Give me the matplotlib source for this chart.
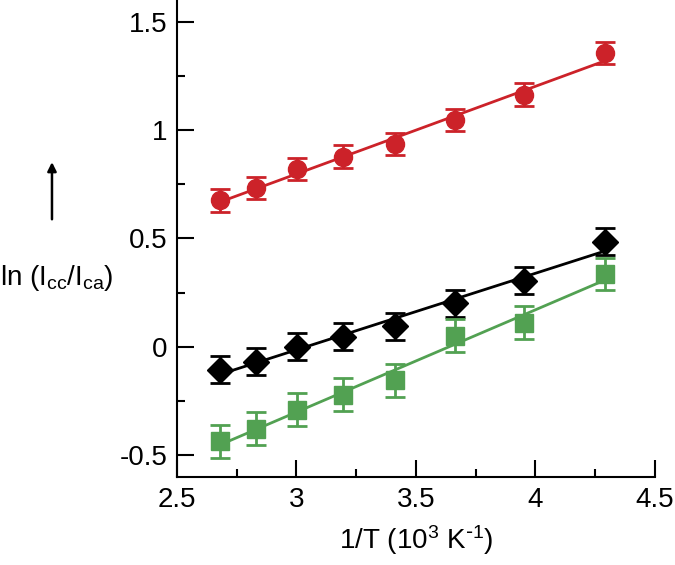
import numpy as np
import matplotlib.pyplot as plt
from matplotlib.patches import FancyArrowPatch
from matplotlib.ticker import MultipleLocator

plt.rcParams['font.family'] = ['Liberation Sans', 'DejaVu Sans']
plt.rcParams['mathtext.default'] = 'regular'

# 1000/T for T = 373 ... 233 K
inv_t = [2.681, 2.833, 3.003, 3.195, 3.413, 3.663, 3.953, 4.292]

red_y = [0.675, 0.733, 0.82, 0.877, 0.935, 1.046, 1.163, 1.355]
red_err = [0.052, 0.052, 0.052, 0.052, 0.052, 0.052, 0.052, 0.052]

black_y = [-0.105, -0.068, 0.0, 0.047, 0.094, 0.2, 0.304, 0.485]
black_err = [0.062, 0.062, 0.062, 0.062, 0.062, 0.062, 0.062, 0.062]

green_y = [-0.436, -0.378, -0.29, -0.221, -0.155, 0.051, 0.112, 0.336]
green_err = [0.075, 0.075, 0.075, 0.075, 0.075, 0.075, 0.075, 0.075]

series = [
    (red_y, red_err, "#CC2229", "o", 13),
    (black_y, black_err, "#000000", "D", 13),
    (green_y, green_err, "#52A152", "s", 13),
]

fig = plt.figure(figsize=(6.75, 5.65), dpi=100)
ax = fig.add_axes([0.262, 0.156, 0.708, 0.844])

x = np.array(inv_t)
for y, err, color, marker, ms in series:
    coef = np.polyfit(x, y, 1)
    ax.plot(x, np.polyval(coef, x), color=color, lw=2)
    ax.errorbar(x, y, yerr=err, fmt=marker, color=color, ms=ms,
                capsize=7, capthick=2, elinewidth=2, zorder=3)

ax.set_xlim(2.5, 4.5)
ax.set_ylim(-0.6, 1.6)
ax.xaxis.set_minor_locator(MultipleLocator(0.25))
ax.yaxis.set_minor_locator(MultipleLocator(0.25))
ax.set_xticks([2.5, 3, 3.5, 4, 4.5], ["2.5", "3", "3.5", "4", "4.5"])
ax.set_yticks([-0.5, 0, 0.5, 1, 1.5], ["-0.5", "0", "0.5", "1", "1.5"])
ax.tick_params(which='major', direction='in', length=12, width=1.5, labelsize=20, pad=7)
ax.tick_params(which='minor', direction='in', length=6, width=1.5)
ax.spines['top'].set_visible(False)
ax.spines['right'].set_visible(False)
ax.spines['left'].set_linewidth(1.5)
ax.spines['bottom'].set_linewidth(1.5)

ax.set_xlabel(r"1/T (10$^3$ K$^{\text{-}1}$)", fontsize=20, labelpad=8)
fig.text(0.0, 0.508, "ln (I$_{cc}$/I$_{ca}$)", fontsize=20, ha='left', va='center')
fig.patches.append(FancyArrowPatch(
    (0.077, 0.607), (0.077, 0.718), transform=fig.transFigure,
    arrowstyle='-|>', mutation_scale=13, color='black', lw=1.8))

fig.savefig("out.png", dpi=100)
